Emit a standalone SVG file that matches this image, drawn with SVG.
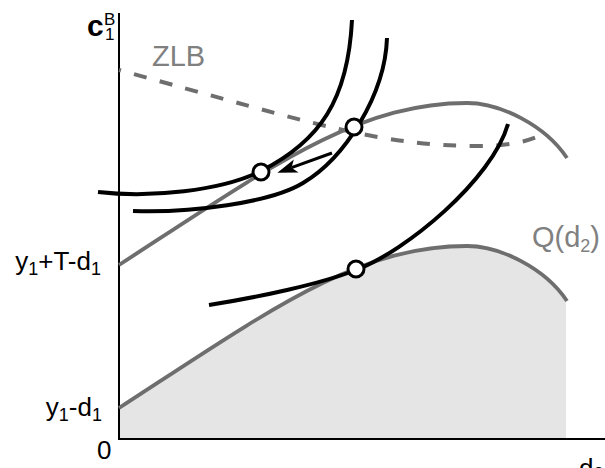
<svg xmlns="http://www.w3.org/2000/svg" width="605" height="468" viewBox="0 0 605 468">
<style>
  .axis { stroke: #000; stroke-width: 2; fill: none; }
  .q { stroke: #6e6e6e; stroke-width: 3.8; fill: none; }
  .zlb { stroke: #6e6e6e; stroke-width: 4; fill: none; stroke-dasharray: 13 13.5; stroke-dashoffset: 11; }
  .ic { stroke: #000; stroke-width: 4; fill: none; }
  .pt { stroke: #000; stroke-width: 3; fill: #fff; }
  .lbl { font-family: "Liberation Sans", Arial, sans-serif; font-size: 26px; fill: #000; }
  .glbl { font-family: "Liberation Sans", Arial, sans-serif; font-size: 29px; fill: #808080; }
  .sub { font-size: 18px; }
</style>
<defs>
  <marker id="ah" viewBox="0 0 24 16" markerWidth="24" markerHeight="16" refX="7" refY="8" orient="auto" markerUnits="userSpaceOnUse">
    <path d="M22,8 L2,1 L7,8 L2,15 Z" fill="#000"/>
  </marker>
</defs>
<g id="feasible-region">
  <path d="M119,408 C269,310.5 357,246 467,246 C500,246 545,268 566,301 L566,439 L119,439 Z" fill="#e5e5e5"/>
</g>
<g id="axes">
  <line class="axis" x1="119" y1="13" x2="119" y2="440"/>
  <line class="axis" x1="118" y1="439" x2="605" y2="439"/>
</g>
<g id="curves">
  <path id="q-lower" class="q" d="M119,408 C269,310.5 357,246 467,246 C500,246 545,268 567,301"/>
  <path id="q-upper" class="q" d="M119,265 C269,167.5 357,103 467,103 C500,103 545,125 567,158"/>
  <path id="zlb-line" class="zlb" d="M119,70 C319,125 380,146 480,146 C505,146 530,142 545,133"/>
  <path id="ic-a" class="ic" d="M98,192 C150,198 221,191 261,171 C320,141 348,100 352,20"/>
  <path id="ic-b" class="ic" d="M133,211 C190,213 270,203 303,183 C345,158 385,95 387,38"/>
  <path id="ic-c" class="ic" d="M209,305 C260,297 320,284 356,270 C406,251 492,180 508,124"/>
</g>
<g id="connectors">
  <line x1="332" y1="153" x2="291.5" y2="167.7" stroke="#000" stroke-width="3" marker-end="url(#ah)"/>
</g>
<g id="points">
  <circle id="pt-left" class="pt" cx="261" cy="172" r="8"/>
  <circle id="pt-upper" class="pt" cx="354" cy="127" r="8"/>
  <circle id="pt-lower" class="pt" cx="356" cy="269" r="8"/>
</g>
<g id="labels">
  <text class="lbl"><tspan x="87" y="36" font-weight="bold" font-size="30">c</tspan><tspan x="104" y="25" font-size="17">B</tspan><tspan x="105" y="40" font-size="17">1</tspan></text>
  <text class="glbl" x="152" y="66">ZLB</text>
  <text class="lbl" x="101" y="270" text-anchor="end">y<tspan class="sub" dy="5">1</tspan><tspan dy="-5">+T-d</tspan><tspan class="sub" dy="5">1</tspan></text>
  <text class="lbl" x="102" y="416" text-anchor="end">y<tspan class="sub" dy="5">1</tspan><tspan dy="-5">-d</tspan><tspan class="sub" dy="5">1</tspan></text>
  <text class="lbl" x="97" y="459">0</text>
  <text class="lbl" x="579" y="477">d<tspan class="sub" dy="3">2</tspan></text>
  <text class="glbl" x="532" y="247">Q(d<tspan class="sub" font-size="19" dy="5">2</tspan><tspan dy="-5">)</tspan></text>
</g>
</svg>
